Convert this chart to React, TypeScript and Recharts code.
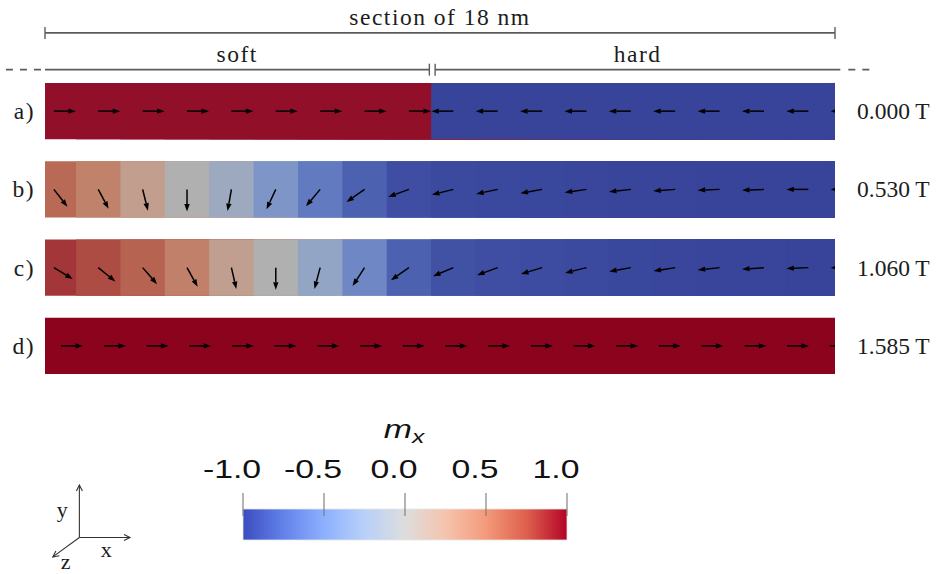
import React from "react";
import {
  ComposedChart, XAxis, YAxis, Scatter, ReferenceArea, ReferenceLine,
} from "recharts";

// rows of the figure
const rows = [0, 1, 2, 3];
const rowLabels = ["a)", "b)", "c)", "d)"];
const fieldLabels = ["0.000 T", "0.530 T", "1.060 T", "1.585 T"];

// strip geometry in cell units (1 cell ~ 1 nm), soft|hard interface at 8.5
const stripStart = -0.2;
const stripEnd = 17.6;
const cellEdges = [-0.2, 0.5, 1.5, 2.5, 3.5, 4.5, 5.5, 6.5, 7.5, 8.5, 9.5, 10.5, 11.5, 12.5, 13.5, 14.5, 15.5, 16.5, 17.5];
const cellCenters = [0, 1, 2, 3, 4, 5, 6, 7, 8, 9, 10, 11, 12, 13, 14, 15, 16, 17, 18];
const fieldTails = [0.16, 1.13, 2.09, 3.05, 4.01, 4.97, 5.94, 6.9, 7.86, 8.82, 9.78, 10.75, 11.71, 12.67, 13.63, 14.59, 15.56, 16.52, 17.48];

// in-plane magnetisation angle (deg) per cell
const anglesA = [0, 0, 0, 0, 0, 0, 0, 0, 0, 180, 180, 180, 180, 180, 180, 180, 180, 180, 180];
const anglesB = [-52, -62, -76, -90, -100, -115, -130, -145, -160, -166, -168, -170, -172, -174, -176, -178, -178, -180, -180];
const anglesC = [-31, -39, -49, -61, -77, -90, -105, -123, -145, -157, -160, -163, -166, -170, -171, -174, -176, -178, -180];
const anglesD = [0, 0, 0, 0, 0, 0, 0, 0, 0, 0, 0, 0, 0, 0, 0, 0, 0, 0, 0];

// dimension lines
const sectionY = -1.0;
const partY = -0.53;
const softEnd = 8.46;
const hardStart = 8.59;
const hardEnd = 17.72;

// colour bar
const cbarTicks = [-1, -0.5, 0, 0.5, 1];

// coordinate triad (x, y, z)
const triadNames = ["x", "y", "z"];
const triadTipX = [1, 0, -0.525];
const triadTipY = [0, 1, -0.37];
const triadLabelX = [0.53, -0.34, -0.27];
const triadLabelY = [-0.25, 0.5, -0.48];

const cwStops: [number, number[]][] = [
  [-1, [59, 76, 192]],
  [-0.75, [98, 130, 234]],
  [-0.5, [141, 176, 254]],
  [-0.25, [184, 208, 249]],
  [0, [221, 221, 221]],
  [0.25, [245, 196, 173]],
  [0.5, [244, 154, 123]],
  [0.75, [222, 96, 77]],
  [1, [180, 4, 38]],
];

function coolwarm(v: number): number[] {
  for (let i = 0; i < cwStops.length - 1; i++) {
    const [v0, c0] = cwStops[i];
    const [v1, c1] = cwStops[i + 1];
    if (v <= v1) {
      const f = Math.max(0, (v - v0) / (v1 - v0));
      return c0.map((c, j) => c + f * (c1[j] - c));
    }
  }
  return cwStops[cwStops.length - 1][1];
}

const rgb = (c: number[]) => `rgb(${c.map((v) => Math.round(Math.min(255, Math.max(0, v)))).join(",")})`;
const mx = (deg: number) => Math.cos((deg * Math.PI) / 180);
const litColor = (deg: number, row: number) =>
  rgb(coolwarm(mx(deg)).map((c) => (row === 3 ? c * 0.77 : c * 0.74 + 12)));

const SERIF = "'Liberation Serif', 'Times New Roman', serif";
const SANS = "'Liberation Sans', Arial, sans-serif";
const INK = "#1c1c1c";
const ROW_HALF = 0.36;

// each cell is painted from its left edge to the strip end; the next one covers the rest (no seams)
const cellRows = [anglesA, anglesB, anglesC];
const cells = cellRows.flatMap((angles, row) =>
  angles.map((a, k) => ({ row, x1: cellEdges[k], x2: stripEnd, fill: litColor(a, row) }))
);
cells.push({ row: 3, x1: stripStart, x2: stripEnd, fill: litColor(anglesD[0], 3) });

const arrowsA = cellCenters.map((x, i) => ({ x, y: 0, angle: anglesA[i] }));
const arrowsB = cellCenters.map((x, i) => ({ x, y: 1, angle: anglesB[i] }));
const arrowsC = cellCenters.map((x, i) => ({ x, y: 2, angle: anglesC[i] }));
const arrowsD = fieldTails.map((x, i) => ({ x, y: 3, angle: anglesD[i] }));

const ArrowGlyph = (props: any) => {
  const { cx, cy, payload } = props;
  if (cx == null || cy == null) return <g />;
  const a = (payload.angle * Math.PI) / 180;
  const ux = Math.cos(a);
  const uy = -Math.sin(a);
  const L = 22, H = 7.5, W = 2.7;
  const tx = cx + ux * L, ty = cy + uy * L;
  const bx = tx - ux * H, by = ty - uy * H;
  const px = -uy, py = ux;
  return (
    <g>
      <line x1={cx} y1={cy} x2={bx} y2={by} stroke="#000" strokeWidth={1.5} />
      <polygon points={`${tx},${ty} ${bx + px * W},${by + py * W} ${bx - px * W},${by - py * W}`} fill="#000" />
    </g>
  );
};

const RowTick = (props: any) => {
  const { x, y, payload, labels, anchor, spacing } = props;
  return (
    <text x={x} y={y + 8} textAnchor={anchor} fontFamily={SERIF} fontSize={23.5} fill={INK} letterSpacing={spacing}>
      {labels[payload.value]}
    </text>
  );
};

const DimLine = (props: any) => {
  const { x1, y1, x2, text, startTick, endTick, dashed } = props;
  const lo = Math.min(x1, x2), hi = Math.max(x1, x2);
  return (
    <g>
      <line x1={lo} y1={y1} x2={hi} y2={y1} stroke="#5c5c5c" strokeWidth={1.6} strokeDasharray={dashed ? "7 7" : undefined} />
      {startTick && <line x1={lo} y1={y1 - 6} x2={lo} y2={y1 + 6} stroke="#5c5c5c" strokeWidth={1.4} />}
      {endTick && <line x1={hi} y1={y1 - 6} x2={hi} y2={y1 + 6} stroke="#5c5c5c" strokeWidth={1.4} />}
      {text && (
        <text x={(lo + hi) / 2} y={y1 - 8} textAnchor="middle" fontFamily={SERIF} fontSize={23.5} fill={INK} letterSpacing={1.5}>
          {text}
        </text>
      )}
    </g>
  );
};

const CbarTick = (props: any) => {
  const { x, y, payload } = props;
  return (
    <text transform={`translate(${x - 11},${y}) scale(1.3,1)`} textAnchor="middle" fontFamily={SANS} fontSize={26} fill="#111">
      {Number(payload.value).toFixed(1)}
    </text>
  );
};

// tick mark of the colour bar: runs from above the bar into its top edge
const CbarMark = (props: any) => {
  const { cx, cy } = props;
  if (cx == null || cy == null) return <g />;
  return <line x1={cx} y1={cy - 16} x2={cx} y2={cy + 7} stroke="#777" strokeWidth={1.1} />;
};

const CbarTitle = (props: any) => {
  const vb = props.viewBox || { x: 0, y: 0, width: 0 };
  return (
    <text transform={`translate(${vb.x + vb.width / 2 - 1},${vb.y + 9}) scale(1.3,1)`} textAnchor="middle" fontFamily={SANS} fontStyle="italic" fill="#111">
      <tspan fontSize={26}>m</tspan>
      <tspan fontSize={19} dy={5}>x</tspan>
    </text>
  );
};

const TriadArrow = (props: any) => {
  const { x1, y1, x2, y2 } = props;
  const dx = x2 - x1, dy = y2 - y1;
  const len = Math.hypot(dx, dy) || 1;
  const ux = dx / len, uy = dy / len;
  const h = 6, w = 3;
  return (
    <g stroke="#333" strokeWidth={1.1} fill="none">
      <line x1={x1} y1={y1} x2={x2} y2={y2} />
      <polyline points={`${x2 - ux * h - uy * w},${y2 - uy * h + ux * w} ${x2},${y2} ${x2 - ux * h + uy * w},${y2 - uy * h - ux * w}`} />
    </g>
  );
};

const TriadLabel = (props: any) => {
  const { cx, cy, payload } = props;
  if (cx == null || cy == null) return <g />;
  return (
    <text x={cx} y={cy + 6} textAnchor="middle" fontFamily={SERIF} fontSize={22} fill={INK}>
      {payload.name}
    </text>
  );
};

const layer: React.CSSProperties = { position: "absolute", left: 0, top: 0 };

export default function App() {
  const cbarData = cbarTicks.map((v) => ({ x: v, y: 1 }));
  const triadData = triadNames.map((name, i) => ({ name, x: triadLabelX[i], y: triadLabelY[i] }));
  return (
    <div style={{ position: "absolute", left: 0, top: 0, width: 938, height: 574, background: "#fff" }}>
      <div style={layer}>
        <ComposedChart width={938} height={574} margin={{ top: 72, right: 3, bottom: 189, left: 5 }}>
          <XAxis type="number" dataKey="x" domain={[stripStart, stripEnd]} hide allowDataOverflow />
          <YAxis
            yAxisId="left" type="number" dataKey="y" domain={[-0.5, 3.5]} reversed ticks={rows} interval={0}
            width={40} axisLine={false} tickLine={false} tickSize={0} tickMargin={10}
            tick={<RowTick labels={rowLabels} anchor="end" spacing={1.5} />}
          />
          <YAxis
            yAxisId="right" orientation="right" type="number" dataKey="y" domain={[-0.5, 3.5]} reversed ticks={rows} interval={0}
            width={100} axisLine={false} tickLine={false} tickSize={0} tickMargin={22}
            tick={<RowTick labels={fieldLabels} anchor="start" spacing={0} />}
          />
          {cells.map((c, i) => (
            <ReferenceArea
              key={`cell-${i}`} yAxisId="left" x1={c.x1} x2={c.x2} y1={c.row - ROW_HALF} y2={c.row + ROW_HALF}
              fill={c.fill} fillOpacity={1} stroke="none" ifOverflow="visible"
            />
          ))}
          <Scatter yAxisId="left" data={arrowsA} shape={ArrowGlyph} isAnimationActive={false} legendType="none" />
          <Scatter yAxisId="left" data={arrowsB} shape={ArrowGlyph} isAnimationActive={false} legendType="none" />
          <Scatter yAxisId="left" data={arrowsC} shape={ArrowGlyph} isAnimationActive={false} legendType="none" />
          <Scatter yAxisId="right" data={arrowsD} shape={ArrowGlyph} isAnimationActive={false} legendType="none" />
          <ReferenceLine
            yAxisId="left" ifOverflow="visible"
            segment={[{ x: stripStart, y: sectionY }, { x: stripEnd, y: sectionY }]}
            shape={(p: any) => <DimLine {...p} text="section of 18 nm" startTick endTick />}
          />
          <ReferenceLine
            yAxisId="left" ifOverflow="visible"
            segment={[{ x: stripStart, y: partY }, { x: softEnd, y: partY }]}
            shape={(p: any) => <DimLine {...p} text="soft" endTick />}
          />
          <ReferenceLine
            yAxisId="left" ifOverflow="visible"
            segment={[{ x: hardStart, y: partY }, { x: hardEnd, y: partY }]}
            shape={(p: any) => <DimLine {...p} text="hard" startTick />}
          />
          <ReferenceLine
            yAxisId="left" ifOverflow="visible"
            segment={[{ x: -1.08, y: partY }, { x: stripStart, y: partY }]}
            shape={(p: any) => <DimLine {...p} dashed />}
          />
          <ReferenceLine
            yAxisId="left" ifOverflow="visible"
            segment={[{ x: 17.9, y: partY }, { x: 18.4, y: partY }]}
            shape={(p: any) => <DimLine {...p} dashed />}
          />
        </ComposedChart>
      </div>

      <div style={layer}>
        <ComposedChart width={938} height={574} margin={{ top: 429, right: 371, bottom: 34, left: 243 }}>
          <defs>
            <linearGradient id="cbarGrad" x1="0" y1="0" x2="1" y2="0">
              {cwStops.map(([v, c]) => (
                <stop key={v} offset={`${((v + 1) / 2) * 100}%`} stopColor={rgb(c)} />
              ))}
            </linearGradient>
          </defs>
          <XAxis
            type="number" dataKey="x" orientation="top" domain={[-1, 1]} ticks={cbarTicks} interval={0} height={80}
            axisLine={false} tickLine={false} tickSize={0} tickMargin={31} tick={<CbarTick />}
            label={<CbarTitle />}
          />
          <YAxis type="number" dataKey="y" domain={[0, 1]} hide />
          <ReferenceArea x1={-1} x2={1} y1={0} y2={1} fill="url(#cbarGrad)" fillOpacity={1} stroke="#e6e6e6" strokeWidth={0.8} ifOverflow="visible" />
          <Scatter data={cbarData} shape={CbarMark} isAnimationActive={false} legendType="none" />
        </ComposedChart>
      </div>

      <div style={layer}>
        <ComposedChart width={938} height={574} margin={{ top: 485, right: 808, bottom: 5, left: 49 }}>
          <XAxis type="number" dataKey="x" domain={[-0.6, 1]} hide />
          <YAxis type="number" dataKey="y" domain={[-0.6, 1]} hide />
          {triadNames.map((n, i) => (
            <ReferenceLine
              key={`ax-${n}`} ifOverflow="visible"
              segment={[{ x: 0, y: 0 }, { x: triadTipX[i], y: triadTipY[i] }]}
              shape={(p: any) => <TriadArrow {...p} />}
            />
          ))}
          <Scatter data={triadData} shape={TriadLabel} isAnimationActive={false} legendType="none" />
        </ComposedChart>
      </div>
    </div>
  );
}
